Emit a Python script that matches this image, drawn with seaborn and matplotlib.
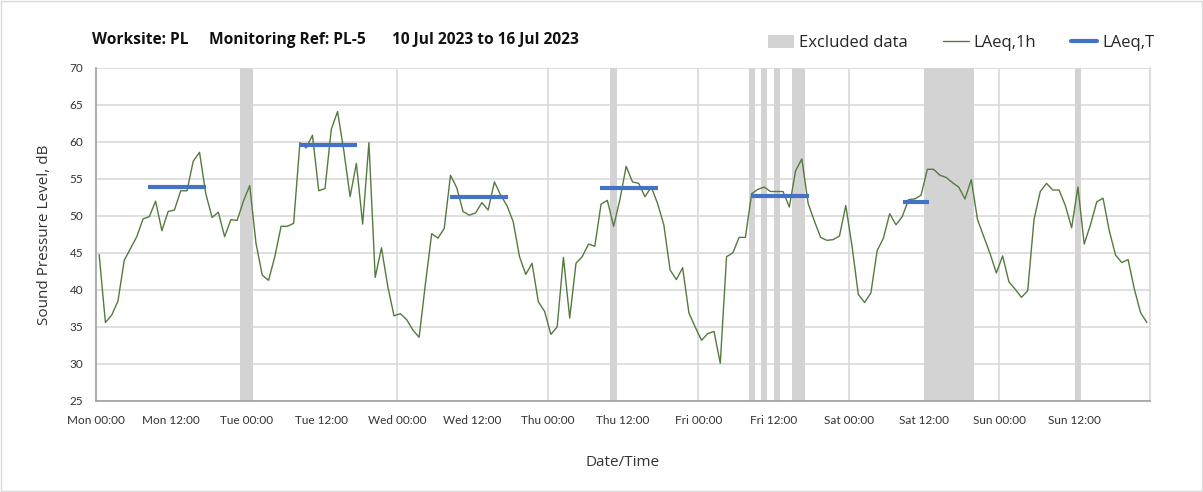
import numpy as np
import pandas as pd
import seaborn as sns
import matplotlib.pyplot as plt
from matplotlib.patches import Patch
from matplotlib.lines import Line2D

# Hourly LAeq,1h values (dB), Mon 10 Jul 00:00 -> Sun 16 Jul 23:00
mon = [44.8, 35.6, 36.6, 38.5, 44.0, 45.6, 47.2, 49.6, 49.9, 52.0, 48.0, 50.6,
       50.8, 53.4, 53.4, 57.4, 58.6, 53.0, 49.8, 50.5, 47.2, 49.5, 49.4, 52.0]
tue = [54.1, 46.3, 42.0, 41.3, 44.5, 48.6, 48.6, 49.0, 59.9, 59.2, 60.9, 53.4,
       53.7, 61.7, 64.1, 58.8, 52.6, 57.1, 48.9, 59.9, 41.7, 45.7, 40.5, 36.5]
wed = [36.8, 36.0, 34.6, 33.6, 40.8, 47.6, 47.0, 48.3, 55.5, 53.8, 50.6, 50.1,
       50.4, 51.8, 50.8, 54.6, 52.8, 51.4, 49.2, 44.5, 42.1, 43.6, 38.4, 37.1]
thu = [34.0, 35.0, 44.4, 36.2, 43.6, 44.5, 46.2, 45.9, 51.6, 52.1, 48.6, 52.2,
       56.7, 54.6, 54.4, 52.6, 53.9, 51.7, 48.8, 42.7, 41.4, 43.0, 36.9, 35.0]
fri = [33.2, 34.1, 34.4, 30.1, 44.5, 45.0, 47.1, 47.1, 53.0, 53.6, 53.9, 53.3,
       53.3, 53.3, 51.2, 56.1, 57.7, 51.7, 49.3, 47.1, 46.7, 46.8, 47.3, 51.4]
sat = [45.9, 39.4, 38.3, 39.6, 45.3, 47.0, 50.3, 48.8, 49.9, 52.2, 52.3, 52.8,
       56.3, 56.3, 55.5, 55.2, 54.5, 53.9, 52.3, 54.9, 49.5, 47.2, 44.9, 42.3]
sun = [44.6, 41.1, 40.1, 39.0, 39.9, 49.5, 53.3, 54.4, 53.5, 53.5, 51.4, 48.4,
       53.9, 46.2, 48.8, 51.9, 52.4, 48.0, 44.7, 43.7, 44.1, 40.1, 36.9, 35.6]

days = ["Mon", "Tue", "Wed", "Thu", "Fri", "Sat", "Sun"]

# LAeq,T periods (hours from Mon 00:00) and levels
period_start = [8.3, 32.4, 56.4, 80.4, 104.5, 128.6]
period_end = [17.6, 41.6, 65.6, 89.6, 113.6, 132.8]
period_level = [53.9, 59.6, 52.6, 53.8, 52.7, 51.9]

# Excluded data windows (hours from Mon 00:00)
excl_start = [23, 82, 104, 106, 108, 111, 132, 156]
excl_end = [25, 83, 105, 107, 109, 113, 140, 157]

# Build the hourly table, each value plotted at the middle of its hour
levels = mon + tue + wed + thu + fri + sat + sun
df = pd.DataFrame({"hour": np.arange(len(levels)) + 0.5, "LAeq": levels})

sns.set_style("white")
plt.rcParams["font.family"] = ["Lato", "DejaVu Sans"]
label_font = ["Open Sans", "DejaVu Sans"]

fig = plt.figure(figsize=(12.03, 4.92), dpi=100)
ax = fig.add_axes([0.0798, 0.185, 0.8762, 0.677])

# Excluded data shading
for s, e in zip(excl_start, excl_end):
    ax.axvspan(s, e, color="#d3d3d3", lw=0, zorder=1)

# Day boundary grid lines
for d in range(1, 8):
    ax.axvline(d * 24, color="#d9d9d9", lw=1.2, zorder=0.5)

# Hourly levels
sns.lineplot(data=df, x="hour", y="LAeq", ax=ax, color="#557a3f", lw=1.0, zorder=3)

# Period levels
ax.hlines(period_level, period_start, period_end, color="#4472c4", lw=3, zorder=4)

ax.set_xlim(0, 168)
ax.set_ylim(25, 70)
ax.set_yticks(range(25, 71, 5))
ax.grid(axis="y", color="#d9d9d9", lw=1.2, zorder=0)
ax.set_axisbelow(True)

tick_pos = list(range(0, 169, 12))
tick_lab = []
for d in days:
    tick_lab += [d + " 00:00", d + " 12:00"]
tick_lab.append("")
ax.set_xticks(tick_pos)
ax.set_xticklabels(tick_lab)

ax.tick_params(axis="both", labelsize=8.5, colors="#a0a0a0", labelcolor="#333333",
               length=4, width=1, direction="out")
ax.tick_params(axis="x", pad=6)
ax.tick_params(axis="y", pad=5)

for side in ["left", "bottom"]:
    ax.spines[side].set_color("#a0a0a0")
    ax.spines[side].set_linewidth(1.2)
ax.spines["top"].set_visible(False)
ax.spines["right"].set_color("#d9d9d9")
ax.spines["right"].set_linewidth(1.2)

ax.set_xlabel("Date/Time", fontsize=11, color="#333333", labelpad=21, family=label_font)
ax.set_ylabel("Sound Pressure Level, dB", fontsize=11, color="#333333", labelpad=13,
              family=label_font)

# Title line, three parts
title_y = 0.918
fig.text(92 / 1203, title_y, "Worksite: PL", fontsize=11.2, fontweight="bold",
         color="#111111", va="center", family=label_font)
fig.text(209 / 1203, title_y, "Monitoring Ref: PL-5", fontsize=11.2, fontweight="bold",
         color="#111111", va="center", family=label_font)
fig.text(392 / 1203, title_y, "10 Jul 2023 to 16 Jul 2023", fontsize=11.2, fontweight="bold",
         color="#111111", va="center", family=label_font)

# Legend
handles = [Patch(facecolor="#d3d3d3", edgecolor="none"),
           Line2D([0], [0], color="#557a3f", lw=1.0),
           Line2D([0], [0], color="#4472c4", lw=3)]
fig.legend(handles, ["Excluded data", "LAeq,1h", "LAeq,T"], ncol=3, frameon=False,
           loc="center right", bbox_to_anchor=(0.972, 0.912),
           prop={"family": label_font, "size": 12},
           handlelength=1.55, handleheight=0.8, columnspacing=2.1, handletextpad=0.3)

# Thin outer border
fig.patches.append(plt.Rectangle((0.001, 0.002), 0.998, 0.996, transform=fig.transFigure,
                                 fill=False, edgecolor="#d9d9d9", lw=1))

fig.savefig("out.png", dpi=100)
